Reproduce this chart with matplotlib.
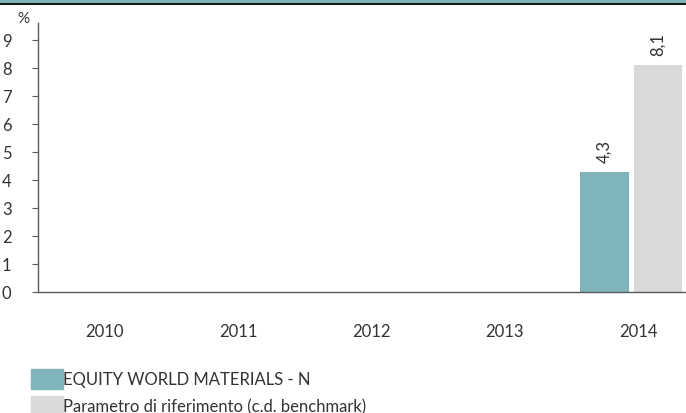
import matplotlib.pyplot as plt
from matplotlib.patches import Rectangle

TEAL = "#7FB4BA"
GREY = "#D9D9D9"
AXIS = "#5A5A5A"
INK = "#333333"

plt.rcParams["font.family"] = ["Lato", "DejaVu Sans"]

years = ["2010", "2011", "2012", "2013", "2014"]
fund = [None, None, None, None, 4.3]
benchmark = [None, None, None, None, 8.1]
fund_label = "EQUITY WORLD MATERIALS - N"
bench_label = "Parametro di riferimento (c.d. benchmark)"

W, H = 686, 414
fig = plt.figure(figsize=(W / 100, H / 100), dpi=100)

# top band
fig.patches.append(Rectangle((0, 1 - 4 / H), 1, 4 / H, transform=fig.transFigure,
                             color=TEAL, zorder=0))
fig.lines.append(plt.Line2D([0, 1], [1 - 5 / H, 1 - 5 / H], transform=fig.transFigure,
                            color="#1a1a1a", lw=1.5))

ax = fig.add_axes([38 / W, (H - 293) / H, (W - 38) / W, (293 - 24) / H])
ax.set_xlim(-0.5, 4.36)
ax.set_ylim(0, 9.6)

bw = 0.365
for i, (f, b) in enumerate(zip(fund, benchmark)):
    if f is not None:
        ax.bar(i - 0.25, f, width=bw, color=TEAL, zorder=2)
        ax.text(i - 0.25, f + 0.35, f"{f:.1f}".replace(".", ","), rotation=90,
                ha="center", va="bottom", fontsize=12, color=INK)
    if b is not None:
        ax.bar(i + 0.15, b, width=bw, color=GREY, zorder=2)
        ax.text(i + 0.15, b + 0.35, f"{b:.1f}".replace(".", ","), rotation=90,
                ha="center", va="bottom", fontsize=12, color=INK)

for s in ["top", "right"]:
    ax.spines[s].set_visible(False)
for s in ["left", "bottom"]:
    ax.spines[s].set_color(AXIS)
    ax.spines[s].set_linewidth(1.0)

ax.set_yticks(range(10))
ax.tick_params(axis="y", length=4, width=0.8, color=AXIS, pad=15,
               labelsize=12, labelcolor=INK)
ax.set_xticks(range(len(years)))
ax.set_xticklabels(years)
ax.tick_params(axis="x", length=0, pad=22, labelsize=12, labelcolor=INK)

fig.text(23 / W, 1 - 19 / H, "%", ha="center", va="center", fontsize=11, color=INK)

# legend
for k, (c, lab) in enumerate([(TEAL, fund_label), (GREY, bench_label)]):
    y0 = 370 + k * 27
    fig.patches.append(Rectangle((31 / W, 1 - (y0 + 20) / H), 32 / W, 20 / H,
                                 transform=fig.transFigure, color=c))
    fig.text(63 / W, 1 - (y0 + 10) / H, lab, ha="left", va="center",
             fontsize=12, color=INK)

fig.savefig("out.png", dpi=100)
